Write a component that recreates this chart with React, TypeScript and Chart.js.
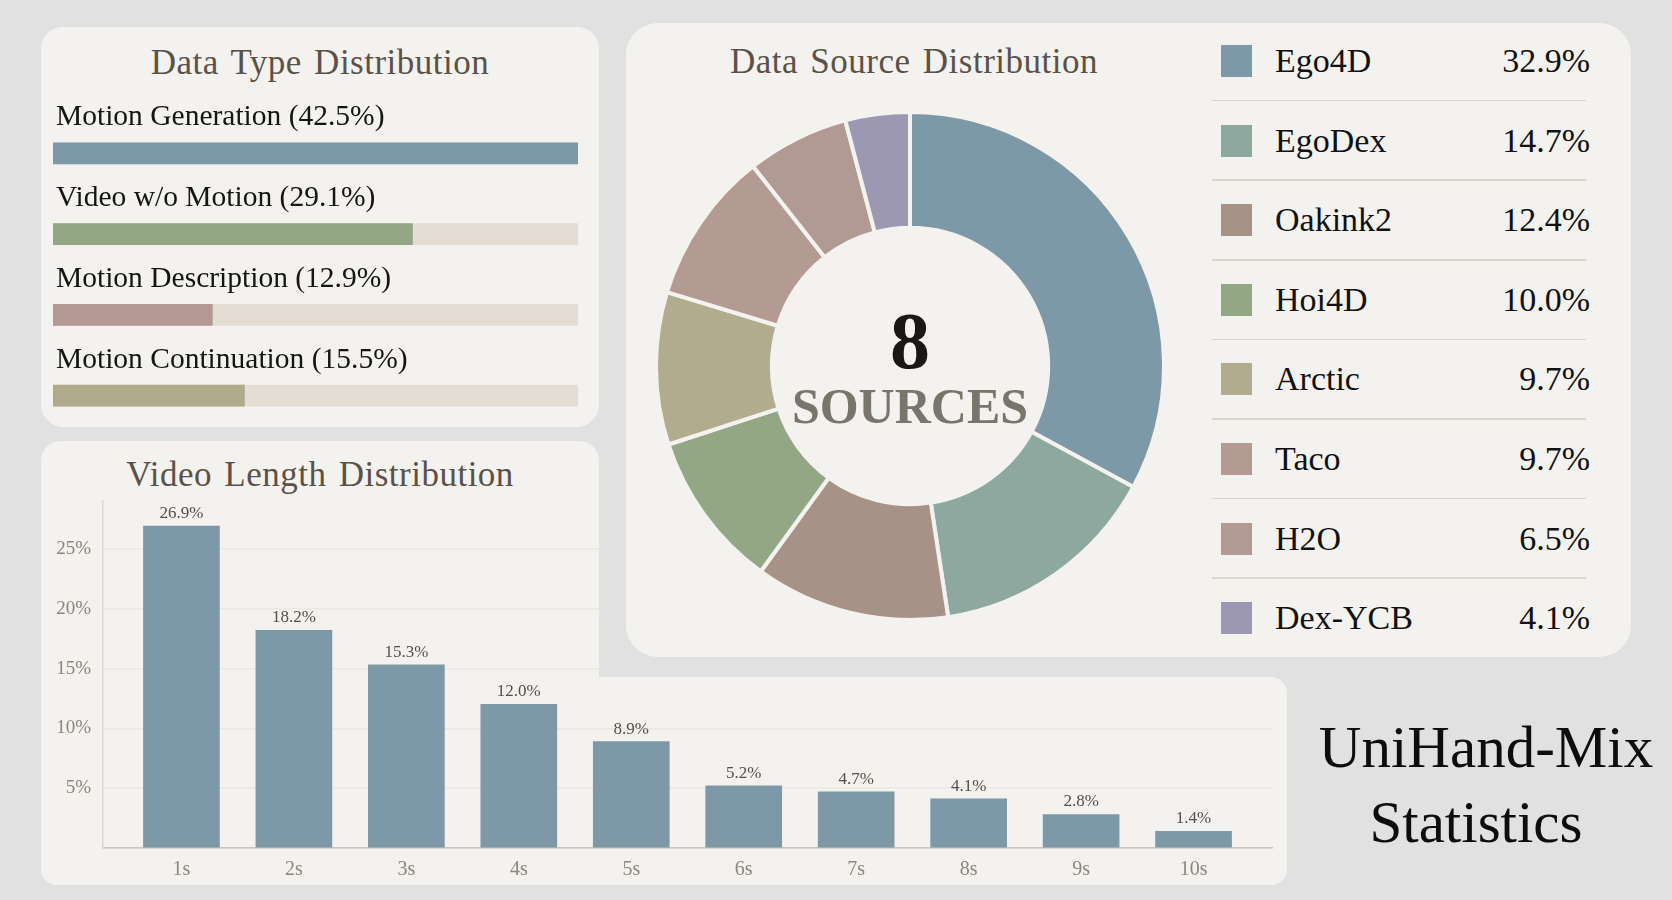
import React, { useEffect, useRef } from 'react';
import { Chart, registerables } from 'chart.js';

Chart.register(...registerables);

// ---------- data ----------
const typeLabels = ['Motion Generation', 'Video w/o Motion', 'Motion Description', 'Motion Continuation'];
const typeValues = [42.5, 29.1, 12.9, 15.5];
const typeColors = ['#7d98a6', '#94a784', '#b39893', '#aeaa8b'];
const typeMax = 42.5;

const sourceLabels = ['Ego4D', 'EgoDex', 'Oakink2', 'Hoi4D', 'Arctic', 'Taco', 'H2O', 'Dex-YCB'];
const sourceValues = [32.9, 14.7, 12.4, 10.0, 9.7, 9.7, 6.5, 4.1];
const sourceColors = ['#7d98a7', '#8da89e', '#a69287', '#93a785', '#b1ac8d', '#b39a92', '#b09a93', '#9c98b4'];

const lengthLabels = ['1s', '2s', '3s', '4s', '5s', '6s', '7s', '8s', '9s', '10s'];
const lengthValues = [26.9, 18.2, 15.3, 12.0, 8.9, 5.2, 4.7, 4.1, 2.8, 1.4];
const lengthTickStep = 5;
const lengthMax = 29;

// ---------- styles ----------
const SERIF = "'Liberation Serif', 'Times New Roman', 'DejaVu Serif', serif";
const PAGE_BG = '#e1e1e1';
const PANEL_BG = '#f4f2ee';
const TITLE_COLOR = '#5a5249';

const abs = (l: number, t: number, w: number, h: number): React.CSSProperties => ({
  position: 'absolute', left: l, top: t, width: w, height: h,
});

export default function App() {
  const typeRef = useRef<HTMLCanvasElement>(null);
  const donutRef = useRef<HTMLCanvasElement>(null);
  const lenRef = useRef<HTMLCanvasElement>(null);

  useEffect(() => {
    const charts: Chart[] = [];

    // Data Type Distribution
    const typeLabelPlugin = {
      id: 'typeLabels',
      afterDatasetsDraw(chart: any) {
        const ctx = chart.ctx;
        const meta = chart.getDatasetMeta(0);
        ctx.save();
        ctx.font = `29.5px ${SERIF}`;
        ctx.fillStyle = '#151515';
        ctx.textAlign = 'left';
        ctx.textBaseline = 'alphabetic';
        meta.data.forEach((bar: any, i: number) => {
          ctx.fillText(`${typeLabels[i]} (${typeValues[i].toFixed(1)}%)`, chart.chartArea.left + 3, bar.y - 28);
        });
        ctx.restore();
      },
    };
    if (typeRef.current) {
      charts.push(new Chart(typeRef.current, {
        type: 'bar',
        data: {
          labels: typeLabels,
          datasets: [
            { data: typeValues, backgroundColor: typeColors, barThickness: 21, grouped: false, order: 0 } as any,
            { data: typeValues.map(() => typeMax), backgroundColor: '#e3ddd3', barThickness: 21, grouped: false, order: 1 } as any,
          ],
        },
        options: {
          indexAxis: 'y',
          animation: false,
          responsive: false,
          layout: { padding: { top: 30, left: 0, right: 0, bottom: 0 } },
          plugins: { legend: { display: false }, tooltip: { enabled: false } },
          scales: {
            x: { display: false, min: 0, max: typeMax },
            y: { display: false },
          },
        },
        plugins: [typeLabelPlugin],
      }));
    }

    // Data Source Distribution
    if (donutRef.current) {
      charts.push(new Chart(donutRef.current, {
        type: 'doughnut',
        data: {
          labels: sourceLabels,
          datasets: [{
            data: sourceValues,
            backgroundColor: sourceColors,
            borderColor: PANEL_BG,
            borderWidth: 4,
          }],
        },
        options: {
          animation: false,
          responsive: false,
          cutout: '54.4%',
          plugins: { legend: { display: false }, tooltip: { enabled: false } },
        },
      }));
    }

    // Video Length Distribution
    const valuePlugin = {
      id: 'valueLabels',
      afterDatasetsDraw(chart: any) {
        const ctx = chart.ctx;
        const meta = chart.getDatasetMeta(0);
        ctx.save();
        ctx.font = `17px ${SERIF}`;
        ctx.fillStyle = '#545049';
        ctx.textAlign = 'center';
        ctx.textBaseline = 'alphabetic';
        meta.data.forEach((bar: any, i: number) => {
          ctx.fillText(`${lengthValues[i].toFixed(1)}%`, bar.x, bar.y - 8);
        });
        ctx.restore();
      },
    };
    if (lenRef.current) {
      charts.push(new Chart(lenRef.current, {
        type: 'bar',
        data: {
          datasets: [{
            data: lengthValues.map((v, i) => ({ x: i + 1, y: v })),
            backgroundColor: '#7d98a6',
            barThickness: 76,
          }],
        },
        options: {
          animation: false,
          responsive: false,
          layout: { padding: { left: 0, right: 15, top: 60, bottom: 0 } },
          plugins: { legend: { display: false }, tooltip: { enabled: false } },
          scales: {
            x: {
              type: 'linear',
              offset: false,
              min: 0.3025,
              max: lengthLabels.length + 0.6975,
              afterBuildTicks: (s: any) => { s.ticks = lengthLabels.map((_, i) => ({ value: i + 1 })); },
              afterFit: (s: any) => { s.height = 37; },
              ticks: {
                callback: (v: any) => lengthLabels[Math.round(v) - 1] ?? '',
                font: { family: SERIF, size: 20 },
                color: '#8b867e',
                padding: 10,
                maxRotation: 0,
                autoSkip: false,
              },
              grid: { display: false, drawTicks: false },
              border: { display: true, color: '#c9c5bd', width: 1.5 },
            },
            y: {
              min: 0,
              max: lengthMax,
              afterFit: (s: any) => { s.width = 62; },
              ticks: {
                stepSize: lengthTickStep,
                includeBounds: false,
                callback: (v: any) => (v === 0 ? '' : `${v}%`),
                font: { family: SERIF, size: 19 },
                color: '#8b867e',
                padding: 12,
              },
              grid: { color: '#ebe8e2', lineWidth: 1.5, drawTicks: false },
              border: { display: true, color: '#dcd8d0', width: 1.5 },
            },
          } as any,
        },
        plugins: [valuePlugin],
      }));
    }

    return () => charts.forEach((c) => c.destroy());
  }, []);

  const titleStyle = (cx: number, cy: number): React.CSSProperties => ({
    position: 'absolute', left: cx - 300, top: cy - 19, width: 600, height: 40,
    lineHeight: '40px', textAlign: 'center', fontFamily: SERIF, fontSize: 35,
    letterSpacing: 0.5, wordSpacing: 3,
    color: TITLE_COLOR, whiteSpace: 'nowrap',
  });

  const rowTop = 61;
  const rowStep = 79.6;

  return (
    <div style={{ position: 'absolute', left: 0, top: 0, width: 1672, height: 900, background: PAGE_BG, overflow: 'hidden', fontFamily: SERIF }}>
      {/* Panel 1 */}
      <div style={{ ...abs(41, 27, 558, 400), background: PANEL_BG, borderRadius: 22 }} />
      <div style={titleStyle(320, 62)}>Data Type Distribution</div>
      <canvas ref={typeRef} width={525} height={353} style={{ ...abs(53, 83, 525, 353) }} />

      {/* Panel 3 (L-shape) */}
      <div style={{ ...abs(41, 441, 558, 300), background: PANEL_BG, borderRadius: '20px 20px 0 0' }} />
      <div style={{ ...abs(41, 677, 1246, 208), background: PANEL_BG, borderRadius: '0 16px 16px 16px' }} />
      <div style={titleStyle(320, 474)}>Video Length Distribution</div>
      <canvas ref={lenRef} width={1246} height={444} style={{ ...abs(41, 441, 1246, 444) }} />
      <div style={{ ...abs(599, 441, 700, 236), background: PAGE_BG }} />

      {/* Panel 2 */}
      <div style={{ ...abs(626, 23, 1005, 634), background: PANEL_BG, borderRadius: 32 }} />
      <div style={titleStyle(914, 61)}>Data Source Distribution</div>
      <canvas ref={donutRef} width={512} height={512} style={{ ...abs(654, 110, 512, 512) }} />
      <div style={{ ...abs(810, 301, 200, 80), lineHeight: '80px', textAlign: 'center', fontSize: 80, fontWeight: 'bold', color: '#1a1714' }}>
        {String(sourceLabels.length)}
      </div>
      <div style={{ ...abs(710, 381, 400, 50), lineHeight: '50px', textAlign: 'center', fontSize: 50, fontWeight: 'bold', color: '#7a756c' }}>
        SOURCES
      </div>

      {/* Legend */}
      {sourceLabels.map((lab, i) => {
        const cy = rowTop + i * rowStep;
        return (
          <React.Fragment key={lab}>
            <div style={{ ...abs(1221, cy - 16, 31, 32), background: sourceColors[i] }} />
            <div style={{ ...abs(1275, cy - 20, 200, 40), lineHeight: '40px', fontSize: 34, color: '#111', whiteSpace: 'nowrap' }}>{lab}</div>
            <div style={{ ...abs(1440, cy - 20, 150, 40), lineHeight: '40px', fontSize: 34, color: '#111', textAlign: 'right', whiteSpace: 'nowrap' }}>
              {`${sourceValues[i].toFixed(1)}%`}
            </div>
            {i < sourceLabels.length - 1 && (
              <div style={{ ...abs(1212, cy + rowStep / 2 - 1, 374, 1.5), background: '#dad6ce' }} />
            )}
          </React.Fragment>
        );
      })}

      {/* Big title */}
      <div style={{ ...abs(1286, 712, 400, 70), lineHeight: '70px', textAlign: 'center', fontSize: 59, color: '#0d0d0d', whiteSpace: 'nowrap' }}>UniHand-Mix</div>
      <div style={{ ...abs(1276, 787, 400, 70), lineHeight: '70px', textAlign: 'center', fontSize: 59, color: '#0d0d0d', whiteSpace: 'nowrap' }}>Statistics</div>
    </div>
  );
}
